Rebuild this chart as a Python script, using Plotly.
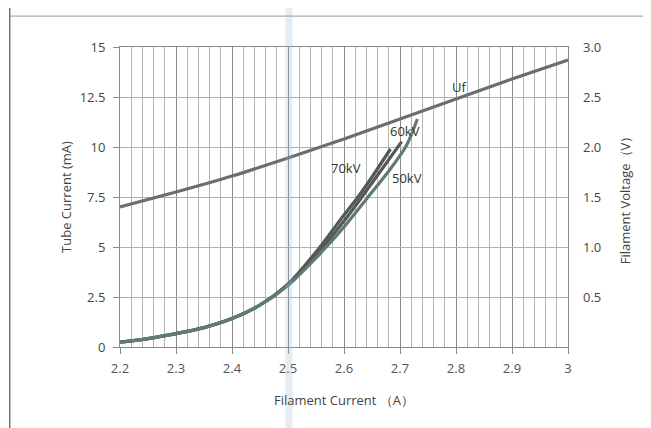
import plotly.graph_objects as go

# Filament current (A) vs tube current (mA)
x_70 = [2.2, 2.25, 2.3, 2.35, 2.4, 2.45, 2.5, 2.55, 2.6, 2.625, 2.65, 2.683]
y_70 = [0.24, 0.42, 0.67, 0.97, 1.42, 2.1, 3.15, 4.75, 6.6, 7.5, 8.5, 9.9]

x_60 = [2.2, 2.25, 2.3, 2.35, 2.4, 2.45, 2.5, 2.55, 2.6, 2.632, 2.65, 2.703]
y_60 = [0.24, 0.42, 0.67, 0.97, 1.42, 2.1, 3.12, 4.6, 6.3, 7.5, 8.2, 10.27]

x_50 = [2.2, 2.25, 2.3, 2.35, 2.4, 2.45, 2.5, 2.55, 2.6, 2.643, 2.68, 2.71, 2.72, 2.731]
y_50 = [0.24, 0.42, 0.67, 0.97, 1.42, 2.1, 3.08, 4.45, 6.0, 7.5, 8.8, 10.0, 10.6, 11.4]

# Filament current (A) vs filament voltage (V)
x_uf = [2.2, 2.3, 2.4, 2.5, 2.6, 2.7, 2.8, 2.9, 3.0]
y_uf = [1.40, 1.55, 1.71, 1.89, 2.08, 2.28, 2.48, 2.68, 2.87]

x_ticks = [2.2, 2.3, 2.4, 2.5, 2.6, 2.7, 2.8, 2.9, 3.0]
x_ticktext = ["2.2", "2.3", "2.4", "2.5", "2.6", "2.7", "2.8", "2.9", "3"]
y_ticks = [0, 2.5, 5, 7.5, 10, 12.5, 15]
y_ticktext = ["0", "2.5", "5", "7.5", "10", "12.5", "15"]
y2_ticks = [0.5, 1.0, 1.5, 2.0, 2.5, 3.0]
y2_ticktext = ["0.5", "1.0", "1.5", "2.0", "2.5", "3.0"]

labels = ["70kV", "60kV", "50kV", "Uf"]
label_x = [2.604, 2.709, 2.7125, 2.805]
label_y = [8.95, 10.8, 8.45, 13.0]

FONT = "Open Sans"
fig = go.Figure()

fig.add_trace(go.Scatter(x=x_70, y=y_70, mode="lines", line=dict(color="#4f5a53", width=3.2, shape="spline", smoothing=0.8), name="70kV"))
fig.add_trace(go.Scatter(x=x_60, y=y_60, mode="lines", line=dict(color="#575852", width=3.2, shape="spline", smoothing=0.8), name="60kV"))
fig.add_trace(go.Scatter(x=x_50, y=y_50, mode="lines", line=dict(color="#5f7b74", width=3.2, shape="spline", smoothing=0.8), name="50kV"))
fig.add_trace(go.Scatter(x=x_uf, y=y_uf, mode="lines", yaxis="y2", line=dict(color="#6a6e70", width=3.2, shape="spline", smoothing=0.6), name="Uf"))

for t, xx, yy in zip(labels, label_x, label_y):
    fig.add_annotation(x=xx, y=yy, text=t, showarrow=False,
                       font=dict(family=FONT, size=13, color="#333333"))

# page body has an 8px margin, so the figure is shrunk by 8px to fit the window
fig.update_layout(
    width=643, height=420,
    margin=dict(l=112, r=83, t=39, b=81),
    paper_bgcolor="white", plot_bgcolor="white",
    showlegend=False,
    font=dict(family=FONT, size=12, color="#444444"),
    xaxis=dict(
        range=[2.2, 3.0], tickvals=x_ticks, ticktext=x_ticktext,
        showgrid=True, gridcolor="#8a8a8a", gridwidth=1,
        minor=dict(dtick=0.02, tick0=2.2, showgrid=True, gridcolor="#b4b4b4", gridwidth=1),
        showline=True, linecolor="#8a8a8a", mirror=True,
        ticks="outside", ticklen=6, tickcolor="#8a8a8a", ticklabelstandoff=3,
        zeroline=False,
        title=dict(text="Filament Current （A）", font=dict(family=FONT, size=13, color="#444444"), standoff=20),
        tickfont=dict(family=FONT, size=13, color="#555555"),
    ),
    yaxis=dict(
        range=[0, 15], tickvals=y_ticks, ticktext=y_ticktext,
        showgrid=True, gridcolor="#b0b0b0", gridwidth=1,
        showline=True, linecolor="#8a8a8a", mirror=True,
        ticks="outside", ticklen=6, tickcolor="#8a8a8a", ticklabelstandoff=5,
        zeroline=False,
        title=dict(text="Tube Current (mA)", font=dict(family=FONT, size=13, color="#444444"), standoff=5),
        tickfont=dict(family=FONT, size=13, color="#444444"),
    ),
    yaxis2=dict(
        range=[0, 3], tickvals=y2_ticks, ticktext=y2_ticktext,
        overlaying="y", side="right", showgrid=False, zeroline=False,
        ticks="", ticklabelstandoff=14,
        title=dict(text="Filament Voltage（V）", font=dict(family=FONT, size=13, color="#444444"), standoff=20),
        tickfont=dict(family=FONT, size=13, color="#444444"),
    ),
)

# scan frame lines and the faint vertical band artifact (paper coords of a 448x300 plot area)
fig.add_shape(type="line", xref="paper", yref="paper", x0=-0.246, x1=-0.246, y0=-0.27, y1=1.157,
              line=dict(color="#555555", width=1.2))
fig.add_shape(type="line", xref="paper", yref="paper", x0=-0.246, x1=1.186, y0=1.103, y1=1.103,
              line=dict(color="#999999", width=1))
fig.add_shape(type="line", xref="paper", yref="paper", x0=1.172, x1=1.172, y0=-0.27, y1=0.767,
              line=dict(color="#dddddd", width=1))
fig.add_shape(type="rect", xref="paper", yref="paper", x0=0.369, x1=0.385, y0=-0.27, y1=1.157,
              fillcolor="rgba(150,185,205,0.25)", line=dict(width=0), layer="above")

fig.write_html("out.html")
